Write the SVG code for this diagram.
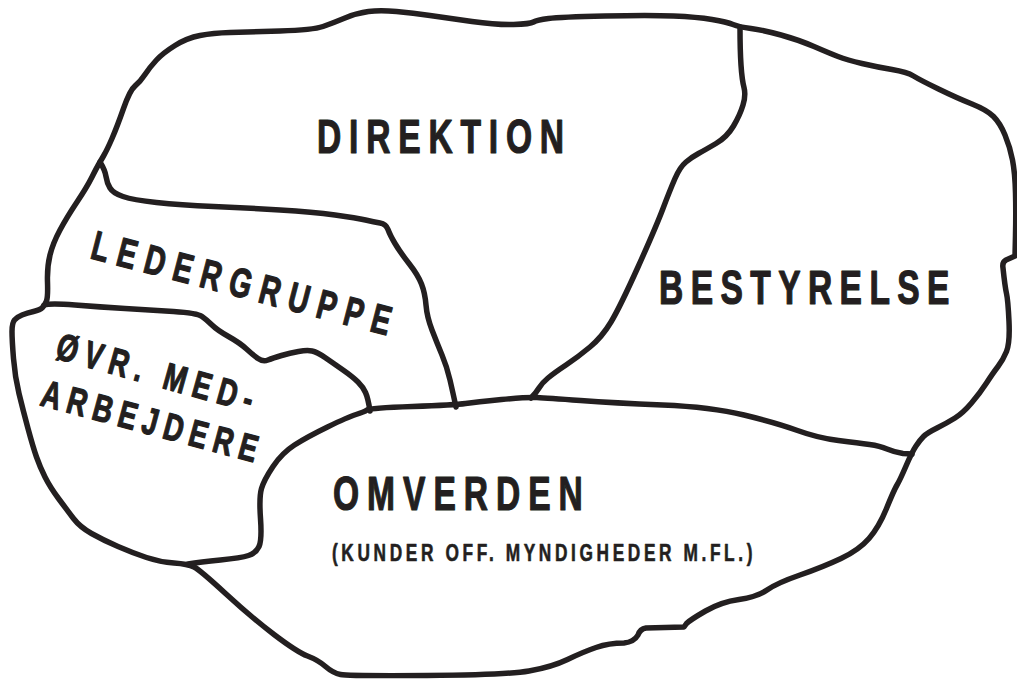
<svg xmlns="http://www.w3.org/2000/svg" width="1017" height="680" viewBox="0 0 1017 680">
<style>
.b{fill:none;stroke:#231f20;stroke-width:5.5;stroke-linejoin:round;stroke-linecap:round}
.t{font-family:"Liberation Sans",Arial,Helvetica,sans-serif;font-weight:bold;fill:#231f20;stroke:#231f20;stroke-width:1.2;stroke-linejoin:round}
.s{font-family:"Liberation Sans",Arial,Helvetica,sans-serif;font-weight:bold;fill:#231f20;stroke:#231f20;stroke-width:0.6;stroke-linejoin:round}
</style>
<rect width="1017" height="680" fill="#fff"/>
<g id="connectors">
<path id="outer" class="b" d="M100,162 L103.5,156 Q107,150 112,138.5 Q117,127 123.5,108.5 Q130,90 135,86 Q140,82 145,74.5 Q150,67 156.5,60 Q163,53 175,45.5 Q187,38 200,35.5 Q213,33 230,32.5 Q247,32 280,31 Q313,30 323,26.5 Q333,23 345,18 Q357,13 368.5,11.5 Q380,10 396.5,11.5 Q413,13 430,15.5 Q447,18 472,21.5 Q497,25 513.5,24.5 Q530,24 533.5,22 Q537,20 548.5,18.5 Q560,17 605,16 Q650,15 673.5,16 Q697,17 712,19.5 Q727,22 733,24.5 Q739,27 751,28.5 Q763,30 781,35 Q799,40 814,46.5 Q829,53 838,56.5 Q847,60 862,63.5 Q877,67 892,69.5 Q907,72 913.5,76 Q920,80 938.5,89 Q957,98 972,104 Q987,110 993.5,116.5 Q1000,123 1005,135 Q1010,147 1012.5,160 Q1015,173 1015.5,193 Q1016,213 1015.5,235 L1015,256 L1006,260 Q1002,262 1003,268 Q1005,287 1006.5,293.5 Q1008,300 1009,321.5 Q1010,343 1006.5,351.5 Q1003,360 998,366.5 Q993,373 986.5,383 Q980,393 971.5,403 Q963,413 955,418 Q947,423 937,428 Q927,433 923.5,436.5 Q920,440 916,446 Q912,452 906,466 Q900,480 897,485 Q894,490 886.5,508.5 Q879,527 869,538.5 Q859,550 841,558.5 Q823,567 800,575 Q777,583 767,590 Q757,597 739,599.5 Q721,602 705.5,611 Q690,620 686.5,623.5 L684,627 L646,628 Q640,629 638,635 Q634,642 624,643 Q609,643 596,647.5 Q583,652 567.5,659.5 Q552,667 529,671 Q506,675 427,675.5 Q348,676 340.5,674.5 Q333,673 325.5,666.5 Q318,660 307.5,656 Q297,652 274,634.5 Q251,617 225.5,593.5 Q200,570 194,567 Q188,564 174,563 Q160,562 146.5,557.5 Q133,553 118,546.5 Q103,540 91.5,533.5 Q80,527 73.5,518.5 Q67,510 58.5,498.5 Q50,487 45,477 Q40,467 36.5,457 Q33,447 28,428.5 Q23,410 19,393.5 Q15,377 13.5,358.5 Q12,340 12,331.5 Q12,323 14.5,320 Q17,317 22,315 Q27,313 33.5,311.5 Q40,310 42.5,307.5 Q45,305 46.5,301 Q48,297 47.5,282 Q47,267 50,255 Q53,243 60,230 Q67,217 77,202 Q87,187 92,177 Q97,167 100,162 Z"/>
<path id="direktion-ledergruppe" class="b" d="M100,162 Q105,170 106,176.5 Q107,183 110,188 Q113,193 123,196.5 Q133,200 156.5,202.5 Q180,205 213.5,206.5 Q247,208 280,210 Q313,212 335,215 Q357,218 365.5,220 Q374,222 380,223 Q386,224 388,229.5 Q390,235 395,243.5 Q400,252 409,263.5 Q418,275 421.5,284 Q425,293 426,305 Q427,317 432,330 Q437,343 442,355 Q447,367 450,380 Q453,393 456,407"/>
<path id="ledergruppe-medarbejdere" class="b" d="M44,305 Q50,303 75,305 Q100,307 125,308.5 Q150,310 173.5,311.5 Q197,313 202,316.5 Q207,320 212,325 Q217,330 228.5,336.5 Q240,343 246.5,349 Q253,355 258,358.5 Q263,362 268,360 Q273,358 281.5,355.5 Q290,353 298.5,351.5 Q307,350 312,351 Q317,352 325,357.5 Q333,363 343,370 Q353,377 358,382 Q363,387 365.5,392.5 Q368,398 370,411"/>
<path id="omverden-border" class="b" d="M188,564 Q200,562 220.5,560 Q241,558 248.5,555.5 Q256,553 259,546.5 Q262,540 260.5,518.5 Q259,497 261.5,488.5 Q264,480 273,466.5 Q282,453 294.5,445 Q307,437 327.5,427 Q348,417 356,414.5 Q364,412 367,410 Q370,408 412.5,406.5 Q455,405 465.5,403.5 Q476,402 501.5,399.5 Q527,397 537,397.5 Q547,398 580.5,400.5 Q614,403 662.5,405 Q711,407 744,415 Q777,423 797.5,430.5 Q818,438 838.5,440.5 Q859,443 869.5,444.5 Q880,446 887,449 Q894,452 903,453.5 L912,454"/>
<path id="direktion-bestyrelse" class="b" d="M740,27 Q740,50 741,65 Q742,80 744,87.5 Q746,95 743,105 Q740,115 733.5,126 Q727,137 716,143.5 Q705,150 698.5,153.5 Q692,157 686,162 Q680,167 675,178.5 Q670,190 663,208.5 Q656,227 638,267 Q620,307 611,322 Q602,337 590,347 Q578,357 566,365 Q554,373 548,378 Q542,383 539,388 Q536,393 531,398"/>
</g>
<g id="direktion"><text class="t" font-size="48" transform="translate(317,153) scale(0.7,1)" textLength="353" lengthAdjust="spacing">DIREKTION</text></g>
<g id="bestyrelse"><text class="t" font-size="48" transform="translate(659,304) scale(0.7,1)" textLength="415" lengthAdjust="spacing">BESTYRELSE</text></g>
<g id="ledergruppe"><text class="t" font-size="41" transform="translate(89,258) rotate(14.6) scale(0.7,1)" textLength="440" lengthAdjust="spacing">LEDERGRUPPE</text></g>
<g id="medarbejdere">
<text class="t" font-size="38" transform="translate(54,358) rotate(15.5) scale(0.72,1)" textLength="282" lengthAdjust="spacing">ØVR. MED-</text>
<text class="t" font-size="38" transform="translate(39,405) rotate(15) scale(0.72,1)" textLength="309" lengthAdjust="spacing">ARBEJDERE</text>
</g>
<g id="omverden">
<text class="t" font-size="48" transform="translate(333,510) scale(0.7,1)" textLength="357" lengthAdjust="spacing">OMVERDEN</text>
<text class="s" font-size="24" transform="translate(332,561) scale(0.72,1)" textLength="584" lengthAdjust="spacing">(KUNDER OFF. MYNDIGHEDER M.FL.)</text>
</g>
</svg>
